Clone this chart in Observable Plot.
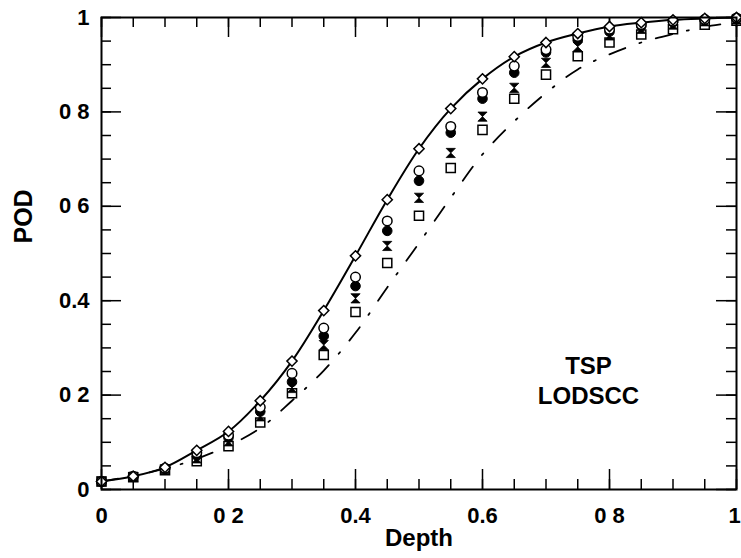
<!DOCTYPE html>
<html>
<head>
<meta charset="utf-8">
<script src="https://cdn.jsdelivr.net/npm/d3@7"></script>
<script src="https://cdn.jsdelivr.net/npm/@observablehq/plot@0.6"></script>
<style>
  html, body { margin: 0; padding: 0; background: #fff; }
  #chart svg { display: block; }
</style>
</head>
<body>
<div id="chart"></div>
<script>
// ---- Data ----
const depth = [0, 0.05, 0.1, 0.15, 0.2, 0.25, 0.3, 0.35, 0.4, 0.45, 0.5, 0.55, 0.6, 0.65, 0.7, 0.75, 0.8, 0.85, 0.9, 0.95, 1];
const podDiamond      = [0.017, 0.028, 0.047, 0.083, 0.123, 0.188, 0.272, 0.379, 0.495, 0.614, 0.722, 0.807, 0.870, 0.917, 0.947, 0.966, 0.981, 0.989, 0.995, 0.998, 1.0];
const podOpenCircle   = [0.017, 0.028, 0.045, 0.078, 0.115, 0.174, 0.246, 0.342, 0.450, 0.569, 0.675, 0.769, 0.841, 0.897, 0.932, 0.960, 0.975, 0.985, 0.992, 0.996, 0.999];
const podFilledCircle = [0.017, 0.027, 0.044, 0.072, 0.110, 0.165, 0.228, 0.325, 0.431, 0.548, 0.654, 0.756, 0.828, 0.883, 0.926, 0.952, 0.970, 0.982, 0.990, 0.995, 0.998];
const podCross        = [0.017, 0.027, 0.043, 0.066, 0.102, 0.155, 0.215, 0.306, 0.405, 0.516, 0.618, 0.713, 0.790, 0.851, 0.904, 0.938, 0.962, 0.976, 0.985, 0.992, 0.996];
const podSquare       = [0.017, 0.026, 0.041, 0.060, 0.092, 0.142, 0.204, 0.285, 0.376, 0.480, 0.580, 0.681, 0.762, 0.828, 0.879, 0.918, 0.947, 0.964, 0.975, 0.985, 0.993];
const podDashDot      = [0.017, 0.029, 0.044, 0.065, 0.093, 0.130, 0.188, 0.252, 0.332, 0.428, 0.522, 0.618, 0.710, 0.780, 0.840, 0.890, 0.922, 0.947, 0.965, 0.980, 0.990];

const majorTicks = [0, 0.2, 0.4, 0.6, 0.8, 1];
const minorTicks = [0, 0.05, 0.1, 0.15, 0.2, 0.25, 0.3, 0.35, 0.4, 0.45, 0.5, 0.55, 0.6, 0.65, 0.7, 0.75, 0.8, 0.85, 0.9, 0.95, 1];
const xTickLabels = ["0", "0 2", "0.4", "0.6", "0 8", "1"];
const yTickLabels = ["0", "0 2", "0.4", "0 6", "0 8", "1"];

const annoText = ["TSP", "LODSCC"];
const annoX = [0.767, 0.767];
const annoY = [0.262, 0.198];

// ---- Build table ----
const rows = depth.map((d, i) => ({
  depth: d,
  diamond: podDiamond[i],
  openCircle: podOpenCircle[i],
  filledCircle: podFilledCircle[i],
  cross: podCross[i],
  square: podSquare[i],
  dashDot: podDashDot[i]
}));
const annos = annoText.map((t, i) => ({t, x: annoX[i], y: annoY[i]}));

const hourglass = {
  draw(ctx, size) {
    const h = Math.sqrt(size / Math.PI);
    ctx.moveTo(-h, -h);
    ctx.lineTo(h, -h);
    ctx.lineTo(-h, h);
    ctx.lineTo(h, h);
    ctx.closePath();
  }
};

const W = 741, H = 558;
const mL = 101, mR = 5, mT = 17, mB = 69;
const plotW = W - mL - mR, plotH = H - mT - mB;
const minorLen = 10, majorLen = 20;
const font = "'Liberation Sans', Arial, Helvetica, sans-serif";

const xLabelTicksInner = majorTicks.slice(0, -1);
const xLabelTicksLast = majorTicks.slice(-1);
const xFmt = d => xTickLabels[majorTicks.indexOf(d)];

const chart = Plot.plot({
  width: W,
  height: H,
  marginLeft: mL,
  marginRight: mR,
  marginTop: mT,
  marginBottom: mB,
  x: {domain: [0, 1]},
  y: {domain: [0, 1]},
  style: {fontFamily: font, background: "white", color: "black"},
  marks: [
    // inward ticks on four sides
    Plot.tickX(minorTicks, {x: d => d, insetTop: plotH - minorLen, stroke: "black", strokeWidth: 1.5}),
    Plot.tickX(majorTicks, {x: d => d, insetTop: plotH - majorLen, stroke: "black", strokeWidth: 1.5}),
    Plot.tickX(minorTicks, {x: d => d, insetBottom: plotH - minorLen, stroke: "black", strokeWidth: 1.5}),
    Plot.tickX(majorTicks, {x: d => d, insetBottom: plotH - majorLen, stroke: "black", strokeWidth: 1.5}),
    Plot.tickY(minorTicks, {y: d => d, insetRight: plotW - minorLen, stroke: "black", strokeWidth: 1.5}),
    Plot.tickY(majorTicks, {y: d => d, insetRight: plotW - majorLen, stroke: "black", strokeWidth: 1.5}),
    Plot.tickY(minorTicks, {y: d => d, insetLeft: plotW - minorLen, stroke: "black", strokeWidth: 1.5}),
    Plot.tickY(majorTicks, {y: d => d, insetLeft: plotW - majorLen, stroke: "black", strokeWidth: 1.5}),

    // tick labels
    Plot.axisX(xLabelTicksInner, {
      anchor: "bottom", tickSize: 0, tickPadding: 18,
      tickFormat: xFmt, fontSize: 22, fontWeight: "bold", label: null
    }),
    Plot.axisX(xLabelTicksLast, {
      anchor: "bottom", tickSize: 0, tickPadding: 18, dx: -2,
      tickFormat: xFmt, fontSize: 22, fontWeight: "bold", label: null
    }),
    Plot.axisY(majorTicks, {
      anchor: "left", tickSize: 0, tickPadding: 12,
      tickFormat: d => yTickLabels[majorTicks.indexOf(d)],
      fontSize: 22, fontWeight: "bold", label: null
    }),

    // dash-dot curve
    Plot.line(rows, {x: "depth", y: "dashDot", curve: "catmull-rom", stroke: "black", strokeWidth: 1.8, strokeDasharray: "17,15,2,15"}),

    // markers
    Plot.dot(rows, {x: "depth", y: "square", symbol: "square2", r: 5.8, stroke: "black", strokeWidth: 1.5, fill: "white"}),
    Plot.dot(rows, {x: "depth", y: "cross", symbol: hourglass, r: 4.6, fill: "black", stroke: "black", strokeWidth: 0.8}),
    Plot.dot(rows, {x: "depth", y: "filledCircle", symbol: "circle", r: 4.8, fill: "black", stroke: "black", strokeWidth: 1}),
    Plot.dot(rows, {x: "depth", y: "openCircle", symbol: "circle", r: 4.8, fill: "white", stroke: "black", strokeWidth: 1.5}),

    // solid curve with diamonds
    Plot.line(rows, {x: "depth", y: "diamond", curve: "catmull-rom", stroke: "black", strokeWidth: 2}),
    Plot.dot(rows, {x: "depth", y: "diamond", symbol: "diamond2", r: 4.6, fill: "white", stroke: "black", strokeWidth: 1.5}),

    // frame
    Plot.frame({stroke: "black", strokeWidth: 2}),

    // annotation
    Plot.text(annos, {x: "x", y: "y", text: "t", fontSize: 24, fontWeight: "bold", fill: "black"}),

    // axis titles
    Plot.text(["Depth"], {text: d => d, frameAnchor: "bottom", dy: 56, fontSize: 24, fontWeight: "bold", fill: "black"}),
    Plot.text(["POD"], {text: d => d, frameAnchor: "left", dx: -78, dy: -10, rotate: -90, fontSize: 25, fontWeight: "bold", fill: "black"})
  ]
});

document.getElementById("chart").appendChild(chart);
</script>
</body>
</html>
